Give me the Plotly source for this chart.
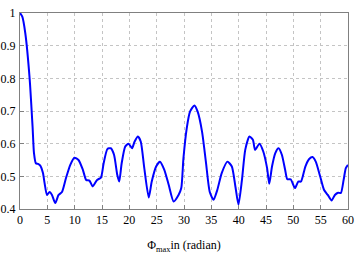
import plotly.graph_objects as go

phi = [0, 0.42, 0.97, 1.76, 2.3, 2.56, 2.9, 3.3, 3.71, 4.2, 4.5, 4.93, 5.41, 5.85, 6.45,
       7.06, 7.68, 8.4, 9.2, 9.93, 10.7, 11.5, 12.1, 12.7, 13.3, 14.1, 14.8, 15.3, 16.0,
       16.6, 17.2, 17.8, 18.15, 18.6, 19.25, 19.85, 20.5, 20.95, 21.57, 22.1, 22.7, 23.55,
       24.1, 24.9, 25.6, 26.4, 27.2, 28.1, 29.0, 29.5, 29.9, 30.5, 31.1, 31.9, 32.5, 33.3,
       34.0, 34.7, 35.4, 36.1, 36.9, 37.95, 38.75, 39.4, 39.96, 40.6, 41.2, 41.97, 42.6,
       43.0, 43.8, 44.5, 45.2, 45.6, 46.1, 46.7, 47.3, 47.9, 48.5, 48.9, 49.5, 50.3, 50.9,
       51.4, 52.2, 52.9, 53.5, 54.1, 54.9, 55.6, 56.3, 57.0, 57.6, 58.2, 58.7, 59.2, 59.6, 60.0]
value = [1.0, 0.989, 0.938, 0.80, 0.652, 0.571, 0.54, 0.538, 0.533, 0.51, 0.479, 0.443, 0.452, 0.443, 0.418,
         0.443, 0.452, 0.494, 0.535, 0.557, 0.55, 0.52, 0.489, 0.487, 0.469, 0.489, 0.496, 0.54, 0.584,
         0.586, 0.566, 0.504, 0.484, 0.54, 0.591, 0.6, 0.586, 0.606, 0.622, 0.606, 0.53, 0.435,
         0.484, 0.53, 0.545, 0.52, 0.474, 0.423, 0.443, 0.464, 0.556, 0.647, 0.698, 0.717, 0.698, 0.637,
         0.545, 0.453, 0.428, 0.459, 0.51, 0.545, 0.53, 0.469, 0.413, 0.489, 0.581, 0.622, 0.612,
         0.581, 0.6, 0.576, 0.525, 0.477, 0.53, 0.571, 0.586, 0.566, 0.52, 0.491, 0.491, 0.464, 0.484,
         0.484, 0.53, 0.553, 0.559, 0.545, 0.5, 0.459, 0.443, 0.426, 0.443, 0.45, 0.449, 0.489, 0.525, 0.535]

x_ticks = [0, 5, 10, 15, 20, 25, 30, 35, 40, 45, 50, 55, 60]
y_ticks = [0.4, 0.5, 0.6, 0.7, 0.8, 0.9, 1]
y_labels = ["0.4", "0.5", "0.6", "0.7", "0.8", "0.9", "1"]
x_title = "Φ<sub>max</sub>in (radian)"

fig = go.Figure()
fig.add_trace(go.Scatter(x=phi, y=value, mode="lines",
                         line=dict(color="#0000ff", width=2, shape="spline", smoothing=0.6),
                         showlegend=False, hoverinfo="skip"))

font = dict(family="Liberation Serif, DejaVu Serif, serif", size=12, color="#000000")
axis_common = dict(showgrid=True, gridcolor="#c4c4c4", griddash="dot", gridwidth=1,
                   showline=True, linecolor="#808080", linewidth=1, mirror=True,
                   ticks="inside", ticklen=4, tickcolor="#808080", zeroline=False,
                   tickfont=font, automargin=False)

fig.update_xaxes(range=[0, 60], tickvals=x_ticks, ticktext=[str(v) for v in x_ticks],
                 title=dict(text=x_title, font=font, standoff=14), **axis_common)
fig.update_yaxes(range=[0.4, 1.0], tickvals=y_ticks, ticktext=y_labels, ticklabelstandoff=1,
                 **axis_common)

fig.update_layout(width=357, height=261, margin=dict(l=20, r=9, t=13, b=52),
                  paper_bgcolor="white", plot_bgcolor="white", font=font)

fig.write_html("out.html", config={"displayModeBar": False},
               post_script="document.body.style.margin='0';document.body.style.padding='0';")
